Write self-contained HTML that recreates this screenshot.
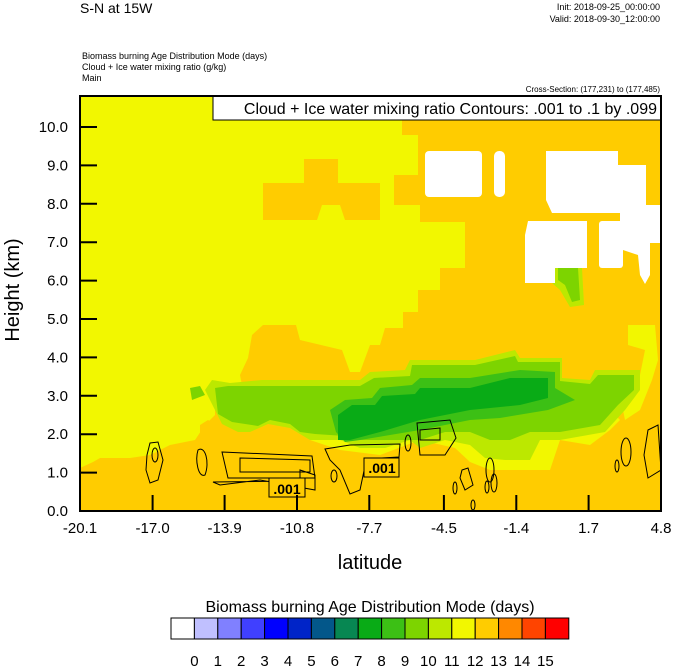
<!DOCTYPE html>
<html><head><meta charset="utf-8"><style>
html,body{margin:0;padding:0;background:#fff;}
svg{display:block;font-family:"Liberation Sans",sans-serif;}
</style></head><body>
<svg width="674" height="668" viewBox="0 0 674 668" xmlns="http://www.w3.org/2000/svg">
<text x="80" y="13" font-size="14">S-N at 15W</text>
<text x="660" y="10" font-size="9" text-anchor="end">Init: 2018-09-25_00:00:00</text>
<text x="660" y="22" font-size="9" text-anchor="end">Valid: 2018-09-30_12:00:00</text>
<text x="82" y="59" font-size="9">Biomass burning Age Distribution Mode   (days)</text>
<text x="82" y="70" font-size="9">Cloud + Ice water mixing ratio   (g/kg)</text>
<text x="82" y="81" font-size="9">Main</text>
<text x="660" y="92" font-size="8" text-anchor="end">Cross-Section: (177,231) to (177,485)</text>
<defs><clipPath id="c"><rect x="80" y="96" width="581" height="415"/></clipPath></defs>
<g clip-path="url(#c)">
<rect x="80" y="96" width="581" height="415" fill="#ffcc00"/>
<path fill="#f2f700" d="M80,96 L402,96 L402,135 L418,135 L418,175 L394,175 L394,205 L420,205 L420,222 L465,222 L465,268 L440,268 L440,290 L418,290 L418,312 L403,312 L403,328 L385,328 L380,345 L370,345 L360,372 L350,372 L342,350 L300,340 L296,325 L263,325 L252,335 L248,358 L240,375 L242,385 L215,386 L215,415 L205,425 L195,440 L170,445 L150,455 L130,458 L100,458 L93,462 L80,468 Z"/>
<path fill="#ffcc00" d="M263,220 L263,183 L304,183 L304,159 L338,159 L338,183 L380,183 L380,220 L345,220 L340,205 L322,205 L317,220 Z"/>
<path fill="#ffcc00" d="M200,425 L208,420 L216,425 L214,440 L200,445 Z"/>
<path fill="#f2f700" d="M628,325 L655,325 L658,360 L652,380 L640,410 L625,420 L620,395 L640,375 L645,350 L628,345 Z"/>
<path fill="#f2f700" d="M235,420 L290,418 L310,440 L340,450 L380,455 L420,440 L455,448 L470,462 L490,470 L525,470 L550,470 L560,440 L590,445 L610,430 L620,420 L600,400 L400,410 L300,415 Z"/>
<path fill="#bce800" d="M205,390 L212,380 L230,383 L262,380 L360,380 L370,372 L405,370 L410,360 L475,360 L515,350 L520,358 L562,358 L562,378 L590,380 L595,370 L640,370 L640,390 L625,410 L605,432 L560,440 L540,440 L530,460 L505,460 L485,458 L470,445 L445,440 L420,448 L410,440 L385,448 L360,448 L340,440 L310,440 L290,428 L268,424 L250,432 L238,432 L222,424 Z"/>
<path fill="#7dd400" d="M215,388 L228,386 L265,386 L360,386 L374,378 L410,376 L412,365 L475,365 L515,356 L518,362 L560,362 L560,381 L590,384 L598,375 L634,375 L634,390 L618,405 L600,425 L560,432 L530,432 L510,440 L490,440 L470,432 L445,432 L420,440 L400,440 L390,440 L358,440 L345,436 L315,434 L300,432 L290,424 L270,420 L258,426 L232,422 L218,414 Z"/>
<path fill="#3cc015" d="M330,410 L345,400 L372,398 L380,388 L412,385 L420,378 L470,378 L520,370 L555,372 L555,388 L575,400 L548,410 L500,418 L470,420 L420,430 L360,440 L345,442 L336,432 Z"/>
<path fill="#09ab16" d="M338,415 L352,405 L375,405 L382,396 L415,394 L420,388 L470,388 L510,378 L548,378 L548,398 L520,405 L470,410 L420,420 L380,432 L350,440 L338,440 Z"/>
<path fill="#7dd400" d="M190,388 L200,386 L205,395 L192,400 Z"/>
<g fill="#fff">
<rect x="425" y="151" width="57" height="46" rx="4"/>
<rect x="494" y="151" width="11" height="46" rx="5"/>
<path d="M546,151 L618,151 L618,165 L646,165 L646,205 L661,205 L661,243 L620,243 L620,213 L552,213 L546,200 Z"/>
<path d="M528,221 L587,221 L587,268 L555,268 L555,283 L525,283 L525,235 Z"/>
<rect x="599" y="221" width="24" height="47" rx="3"/>
<path d="M623,243 L650,243 L650,275 L645,284 L640,275 L638,255 L623,250 Z"/>
</g>
<path fill="#bce800" d="M555,268 L582,268 L584,305 L570,307 L560,290 L552,283 L555,283 Z"/>
<path fill="#7dd400" d="M558,268 L578,268 L580,300 L572,302 L565,285 L558,280 Z"/>
<g fill="none" stroke="#000" stroke-width="1">
<path d="M150,443 L158,442 L163,460 L158,480 L150,483 L146,470 L147,455 Z"/>
<ellipse cx="155" cy="455" rx="3" ry="7"/>
<path d="M198,450 C205,445 210,462 205,475 C198,478 195,460 198,450 Z"/>
<path d="M213,482 L300,481 L300,470 L315,475 L315,490 L260,480 L220,485 Z"/>
<path d="M222,452 L312,456 L315,478 L228,478 Z"/>
<path d="M240,458 L310,460 L310,472 L240,472 Z"/>
<path d="M325,449 L350,445 L400,444 L399,457 L382,458 L365,466 L360,490 L350,494 L340,470 L330,460 Z"/>
<ellipse cx="334" cy="476" rx="3" ry="6"/>
<path d="M417,423 L450,420 L456,438 L445,455 L420,455 Z"/>
<path d="M420,430 L440,428 L440,440 L420,440 Z"/>
<ellipse cx="408" cy="443" rx="3" ry="8"/>
<path d="M462,470 L468,468 L473,485 L465,490 L460,478 Z"/>
<ellipse cx="455" cy="488" rx="2" ry="6"/>
<ellipse cx="490" cy="470" rx="4" ry="12"/>
<ellipse cx="487" cy="487" rx="2" ry="6"/>
<ellipse cx="494" cy="483" rx="3" ry="9"/>
<ellipse cx="473" cy="505" rx="2" ry="5"/>
<ellipse cx="626" cy="452" rx="5" ry="14"/>
<ellipse cx="617" cy="466" rx="2" ry="6"/>
<path d="M648,430 L658,425 L661,470 L648,478 L644,455 Z"/>
</g>
<g>
<rect x="269" y="478" width="36" height="19" fill="#ffcc00" stroke="#000"/>
<text x="287" y="494" font-size="14" font-weight="bold" text-anchor="middle">.001</text>
<rect x="364" y="458" width="35" height="19" fill="#ffcc00" stroke="#000"/>
<text x="382" y="473" font-size="14" font-weight="bold" text-anchor="middle">.001</text>
</g>
</g>
<rect x="213" y="96" width="448" height="24" fill="#fff" stroke="#000"/>
<text x="657" y="114" font-size="16" text-anchor="end">Cloud + Ice water mixing ratio Contours: .001 to .1 by .099</text>
<rect x="80" y="96" width="581" height="415" fill="none" stroke="#000" stroke-width="2"/>
<g stroke="#000" stroke-width="2">
<line x1="80" y1="127" x2="97" y2="127"/><line x1="80" y1="165.4" x2="97" y2="165.4"/><line x1="80" y1="203.8" x2="97" y2="203.8"/><line x1="80" y1="242.2" x2="97" y2="242.2"/><line x1="80" y1="280.6" x2="97" y2="280.6"/><line x1="80" y1="319" x2="97" y2="319"/><line x1="80" y1="357.4" x2="97" y2="357.4"/><line x1="80" y1="395.8" x2="97" y2="395.8"/><line x1="80" y1="434.2" x2="97" y2="434.2"/><line x1="80" y1="472.6" x2="97" y2="472.6"/>
<line x1="152.6" y1="511" x2="152.6" y2="495"/><line x1="224.6" y1="511" x2="224.6" y2="495"/><line x1="297" y1="511" x2="297" y2="495"/><line x1="369.3" y1="511" x2="369.3" y2="495"/><line x1="443.9" y1="511" x2="443.9" y2="495"/><line x1="516.3" y1="511" x2="516.3" y2="495"/><line x1="588.6" y1="511" x2="588.6" y2="495"/>
</g>
<g font-size="15" text-anchor="end">
<text x="68" y="132">10.0</text><text x="68" y="170.4">9.0</text><text x="68" y="208.8">8.0</text><text x="68" y="247.2">7.0</text><text x="68" y="285.6">6.0</text><text x="68" y="324">5.0</text><text x="68" y="362.4">4.0</text><text x="68" y="400.8">3.0</text><text x="68" y="439.2">2.0</text><text x="68" y="477.6">1.0</text><text x="68" y="516">0.0</text>
</g>
<g font-size="15" text-anchor="middle">
<text x="80" y="533">-20.1</text><text x="152.6" y="533">-17.0</text><text x="224.6" y="533">-13.9</text><text x="297" y="533">-10.8</text><text x="369.3" y="533">-7.7</text><text x="443.9" y="533">-4.5</text><text x="516.3" y="533">-1.4</text><text x="588.6" y="533">1.7</text><text x="661" y="533">4.8</text>
</g>
<text x="370" y="569" font-size="20" text-anchor="middle">latitude</text>
<text transform="translate(19,290) rotate(-90)" font-size="20" text-anchor="middle">Height (km)</text>
<text x="370" y="612" font-size="16" text-anchor="middle">Biomass burning Age Distribution Mode  (days)</text>
<g stroke="#000" stroke-width="1">
<rect x="171.0" y="618" width="23.4" height="21" fill="#ffffff"/>
<rect x="194.4" y="618" width="23.4" height="21" fill="#c0c0ff"/>
<rect x="217.8" y="618" width="23.4" height="21" fill="#8080ff"/>
<rect x="241.2" y="618" width="23.4" height="21" fill="#4040ff"/>
<rect x="264.6" y="618" width="23.4" height="21" fill="#0000ff"/>
<rect x="288.0" y="618" width="23.4" height="21" fill="#0024c8"/>
<rect x="311.4" y="618" width="23.4" height="21" fill="#03578a"/>
<rect x="334.8" y="618" width="23.4" height="21" fill="#078752"/>
<rect x="358.2" y="618" width="23.4" height="21" fill="#09ab16"/>
<rect x="381.6" y="618" width="23.4" height="21" fill="#3cc015"/>
<rect x="405.0" y="618" width="23.4" height="21" fill="#7dd400"/>
<rect x="428.4" y="618" width="23.4" height="21" fill="#bce800"/>
<rect x="451.8" y="618" width="23.4" height="21" fill="#f2f700"/>
<rect x="475.2" y="618" width="23.4" height="21" fill="#ffcc00"/>
<rect x="498.6" y="618" width="23.4" height="21" fill="#ff8800"/>
<rect x="522.0" y="618" width="23.4" height="21" fill="#ff4400"/>
<rect x="545.4" y="618" width="23.4" height="21" fill="#ff0000"/>
</g>
<g font-size="15" text-anchor="middle">
<text x="194.4" y="666">0</text><text x="217.8" y="666">1</text><text x="241.2" y="666">2</text><text x="264.6" y="666">3</text><text x="288" y="666">4</text><text x="311.4" y="666">5</text><text x="334.8" y="666">6</text><text x="358.2" y="666">7</text><text x="381.6" y="666">8</text><text x="405" y="666">9</text><text x="428.4" y="666">10</text><text x="451.8" y="666">11</text><text x="475.2" y="666">12</text><text x="498.6" y="666">13</text><text x="522" y="666">14</text><text x="545.4" y="666">15</text>
</g>
</svg>
</body></html>
